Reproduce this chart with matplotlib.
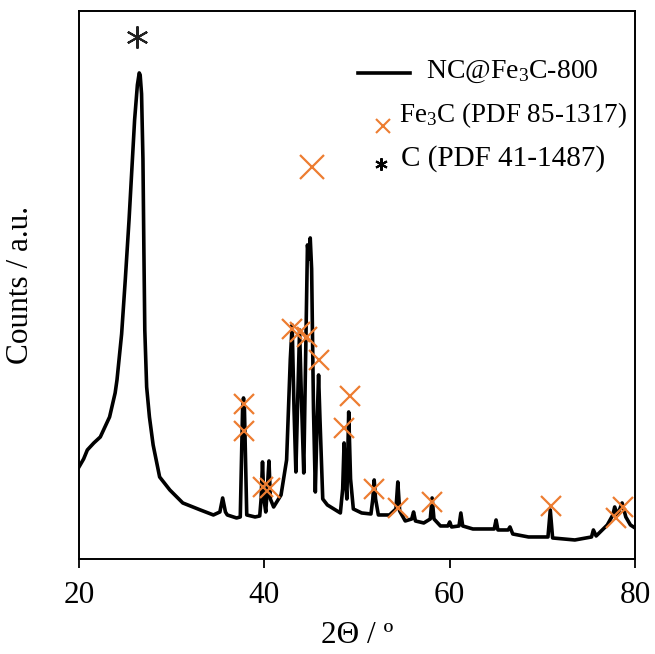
import matplotlib
matplotlib.use('Agg')
import matplotlib.pyplot as plt

plt.rcParams['font.family'] = ['Liberation Serif', 'DejaVu Serif']
plt.rcParams['mathtext.fontset'] = 'custom'
plt.rcParams['mathtext.rm'] = 'Liberation Serif'
plt.rcParams['mathtext.default'] = 'regular'

# XRD pattern (2theta in degrees, counts in arbitrary units)
two_theta = [20.0, 20.5, 20.9, 21.6, 22.3, 23.3, 23.9, 24.1, 24.6, 25.0, 25.4, 25.7, 26.0, 26.3,
             26.5, 26.6, 26.75, 26.9, 27.0, 27.1, 27.3, 27.6, 28.0, 28.7, 29.8, 31.2, 33.1,
             34.5, 35.2, 35.5, 35.8, 36.0, 37.0, 37.4, 37.65, 37.75, 37.85, 38.1, 39.0, 39.5,
             39.65, 39.8, 39.95, 40.15, 40.35, 40.5, 40.65, 41.0, 41.8, 42.4, 42.8, 43.0, 43.2,
             43.4, 43.6, 43.8, 44.0, 44.25, 44.45, 44.65, 44.8, 44.95, 45.1, 45.3, 45.5, 45.7,
             45.85, 46.0, 46.3, 46.8, 47.5, 48.2, 48.45, 48.6, 48.75, 48.9, 49.1, 49.3, 49.6,
             50.5, 51.5, 51.7, 51.85, 52.0, 52.3, 53.5, 54.2, 54.4, 54.6, 55.2, 55.9, 56.1,
             56.3, 57.2, 57.9, 58.1, 58.3, 59.0, 59.8, 60.0, 60.2, 61.0, 61.2, 61.4, 62.5, 64.8,
             65.0, 65.2, 66.3, 66.5, 66.8, 68.5, 70.6, 70.85, 71.1, 73.5, 75.3, 75.5, 75.8, 77.0,
             77.6, 77.8, 78.1, 78.6, 79.0, 79.5, 80.0]
counts = [92, 100, 109, 116, 122, 142, 166, 179, 225, 280, 339, 389, 439, 474,
          486, 484, 465, 400, 310, 229, 172, 142, 114, 82, 69, 56, 49,
          44, 47, 61, 47, 44, 41, 42, 150, 161, 150, 44, 42, 43,
          60, 97, 60, 47, 75, 98, 60, 52, 64, 99, 200, 234, 150,
          87, 160, 229, 160, 86, 200, 314, 300, 321, 290, 150, 67, 140,
          184, 140, 60, 54, 50, 46, 70, 116, 80, 60, 147, 80, 50,
          46, 45, 60, 79, 60, 44, 44, 50, 77, 48, 38, 40, 47,
          38, 36, 40, 61, 40, 33, 33, 37, 32, 33, 46, 33, 30, 30,
          39, 29, 29, 32, 25, 22, 22, 49, 21, 19, 22, 29, 23, 34,
          44, 52, 44, 56, 42, 34, 31]

# Fe3C reflections (PDF 85-1317)
fe3c_x = [37.8, 37.8, 39.9, 40.6, 43.0, 43.85, 44.6, 45.9, 48.6, 49.2, 51.8, 54.4, 58.1,
          70.9, 77.9, 78.7]
fe3c_y = [155, 128, 72, 71, 230, 227, 222, 199, 131, 163, 70, 51, 57, 53, 41, 52]
fe3c_main_x = [45.1]
fe3c_main_y = [392]

# graphite reflection (PDF 41-1487)
c_x = [26.3]
c_y = [522]

orange = '#ED7D31'
star = (6, 2, 0)

fig = plt.figure(figsize=(6.55, 6.54), dpi=100)
ax = fig.add_axes([0.1206, 0.1453, 0.849, 0.838])

ax.plot(two_theta, counts, color='black', lw=2.6, solid_joinstyle='round')
ax.plot(fe3c_x, fe3c_y, ls='none', marker='x', ms=15, mew=1.6, color=orange)
ax.plot(fe3c_main_x, fe3c_main_y, ls='none', marker='x', ms=17, mew=1.6, color=orange)
ax.plot(c_x, c_y, ls='none', marker=star, ms=16, mew=1.5, color='#222222')

ax.set_xlim(20, 80)
ax.set_ylim(0, 548)
ax.set_xticks([20, 40, 60, 80])
ax.set_yticks([])
ax.tick_params(axis='x', direction='out', length=6.5, width=1.3, pad=9, labelsize=22.5)
for s in ax.spines.values():
    s.set_linewidth(1.4)

ax.set_xlabel('2\u0398 / \u00ba', fontsize=22.5)
ax.set_ylabel('Counts / a.u.', fontsize=22.5)
ax.xaxis.set_label_coords(0.5, -0.113)
ax.yaxis.set_label_coords(-0.079, 0.5)

# legend, drawn by hand to match the layout of the original
tr = ax.transAxes
ax.plot([0.502, 0.595], [0.887, 0.887], color='black', lw=2.6, transform=tr, clip_on=False)
ax.text(0.624, 0.878, 'NC@Fe$_3$C-800', fontsize=20, transform=tr, va='baseline')
ax.plot([0.547], [0.790], ls='none', marker='x', ms=10, mew=1.5, color=orange, transform=tr)
ax.text(0.576, 0.797, 'Fe$_3$C (PDF 85-1317)', fontsize=19.5, transform=tr, va='baseline')
ax.plot([0.543], [0.721], ls='none', marker=star, ms=9, mew=1.5, color='black', transform=tr)
ax.text(0.579, 0.717, 'C (PDF 41-1487)', fontsize=21, transform=tr, va='baseline')

fig.savefig('out.png', dpi=100)
